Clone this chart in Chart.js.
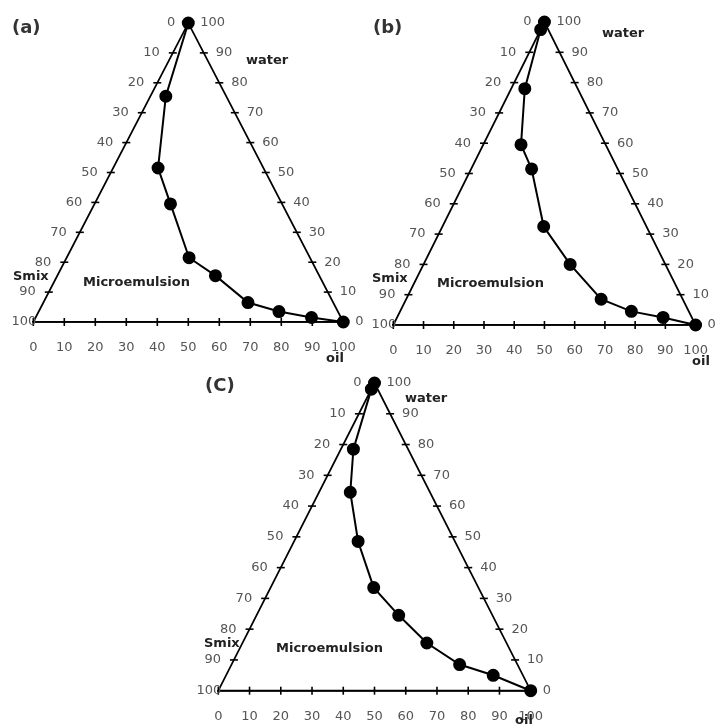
<!DOCTYPE html>
<html><head><meta charset="utf-8">
<script src="https://cdn.jsdelivr.net/npm/chart.js@4.4.1/dist/chart.umd.min.js"></script>
<style>
html,body{margin:0;padding:0;background:#fff;}
#wrap{position:relative;width:718px;height:724px;overflow:hidden;font-family:'DejaVu Sans',Verdana,sans-serif;}
canvas{position:absolute;}
.t{position:absolute;white-space:nowrap;transform:translateY(-50%);line-height:1;font-weight:bold;color:#222;font-size:13px;}
.ttl{font-size:18px;color:#333;}
.me{font-size:13px;}
</style></head><body>
<div id="wrap">
<canvas id="ca" width="380" height="380" style="left:0;top:0"></canvas>
<canvas id="cb" width="360" height="380" style="left:358px;top:0"></canvas>
<canvas id="cc" width="380" height="364" style="left:180px;top:360px"></canvas>

<div class="t ttl" style="left:12px;top:27px">(a)</div>
<div class="t" style="left:246px;top:59px">water</div>
<div class="t" style="left:13px;top:275px">Smix</div>
<div class="t me" style="left:83px;top:281px">Microemulsion</div>
<div class="t" style="left:326px;top:357px">oil</div>

<div class="t ttl" style="left:373px;top:27px">(b)</div>
<div class="t" style="left:602px;top:32px">water</div>
<div class="t" style="left:372px;top:277px">Smix</div>
<div class="t me" style="left:437px;top:282px">Microemulsion</div>
<div class="t" style="left:692px;top:360px">oil</div>

<div class="t ttl" style="left:205px;top:385px">(C)</div>
<div class="t" style="left:405px;top:397px">water</div>
<div class="t" style="left:204px;top:642px">Smix</div>
<div class="t me" style="left:276px;top:647px">Microemulsion</div>
<div class="t" style="left:515px;top:719px">oil</div>
</div>
<script>
// Tick labels
const oilTicks   = [0,10,20,30,40,50,60,70,80,90,100];
const smixTicks  = [0,10,20,30,40,50,60,70,80,90,100];
const waterTicks = [100,90,80,70,60,50,40,30,20,10,0];

// Phase boundary compositions (% oil, % water; Smix = rest)
const oilA   = [0, 5, 14.5, 24.5, 39.5, 51, 66, 77.5, 89, 100];
const waterA = [100, 75.5, 51.5, 39.5, 21.5, 15.5, 6.5, 3.5, 1.5, 0];

const oilB   = [0, 0, 4.5, 12.5, 20, 33.5, 48.5, 64.5, 76.5, 88, 100];
const waterB = [100, 97.5, 78, 59.5, 51.5, 32.5, 20, 8.5, 4.5, 2.5, 0];

const oilC   = [0, 0, 4, 10, 20.5, 33, 45.5, 59, 73, 85.5, 100];
const waterC = [100, 98, 78.5, 64.5, 48.5, 33.5, 24.5, 15.5, 8.5, 5, 0];

function toXY(oil, water){ return {x: oil + water/2, y: water}; }

const sideLabels = {
  id:'sideLabels',
  afterDatasetsDraw(chart){
    const ctx = chart.ctx, xs = chart.scales.x, ys = chart.scales.y;
    ctx.save();
    ctx.font = '13px "DejaVu Sans"';
    ctx.fillStyle = '#555';
    ctx.textBaseline = 'middle';
    smixTicks.forEach(s=>{
      const p = toXY(0, 100-s);
      const px = xs.getPixelForValue(p.x), py = ys.getPixelForValue(p.y);
      ctx.textAlign = 'right';
      ctx.fillText(String(s), px + (s===100 ? 3 : -13), py);
    });
    waterTicks.forEach(w=>{
      const p = toXY(100-w, w);
      const px = xs.getPixelForValue(p.x), py = ys.getPixelForValue(p.y);
      ctx.textAlign = 'left';
      ctx.fillText(String(w), px + 12, py);
    });
    ctx.restore();
  }
};

function buildChart(id, oil, water, pad){
  const boundary = oil.map((o,i)=>toXY(o, water[i]));
  const tri = [toXY(0,0), toXY(0,100), toXY(100,0), toXY(0,0)];
  const sideTickPts = smixTicks.filter(s=>s>0&&s<100).map(s=>toXY(0,100-s))
    .concat(waterTicks.filter(w=>w>0&&w<100).map(w=>toXY(100-w,w)));
  const bottomTickPts = oilTicks.map(o=>toXY(o,0));
  new Chart(document.getElementById(id), {
    type:'scatter',
    data:{datasets:[
      {data:sideTickPts, pointStyle:'line', pointRadius:4, pointHoverRadius:4, borderColor:'#000', pointBorderColor:'#000', pointBorderWidth:1.6, showLine:false, clip:false},
      {data:bottomTickPts, pointStyle:'line', pointRotation:90, pointRadius:4, pointHoverRadius:4, borderColor:'#000', pointBorderColor:'#000', pointBorderWidth:1.6, showLine:false, clip:false},
      {data:tri, showLine:true, borderColor:'#000', borderWidth:1.7, pointRadius:0, pointHoverRadius:0, clip:false},
      {data:boundary, showLine:true, borderColor:'#000', borderWidth:2, pointRadius:5.5, pointHoverRadius:5.5, pointBackgroundColor:'#000', pointBorderColor:'#000', clip:false}
    ]},
    options:{
      responsive:false, animation:false, devicePixelRatio:1,
      layout:{padding:pad},
      events:[],
      plugins:{legend:{display:false}, tooltip:{enabled:false}},
      scales:{
        x:{type:'linear', min:0, max:100,
           afterFit(s){ s.height = 30; },
           grid:{display:false},
           border:{display:true, color:'#000', width:1.7},
           ticks:{stepSize:10, autoSkip:false, maxRotation:0, padding:10, color:'#555', font:{family:'DejaVu Sans', size:13}}},
        y:{type:'linear', display:false, min:0, max:100}
      }
    },
    plugins:[sideLabels]
  });
}

buildChart('ca', oilA, waterA, {left:33.3, right:36.7, top:23, bottom:28});
buildChart('cb', oilB, waterB, {left:35.3, right:13.7, top:22, bottom:25});
buildChart('cc', oilC, waterC, {left:38.3, right:29.3, top:23, bottom:3.3});
</script>
</body></html>
